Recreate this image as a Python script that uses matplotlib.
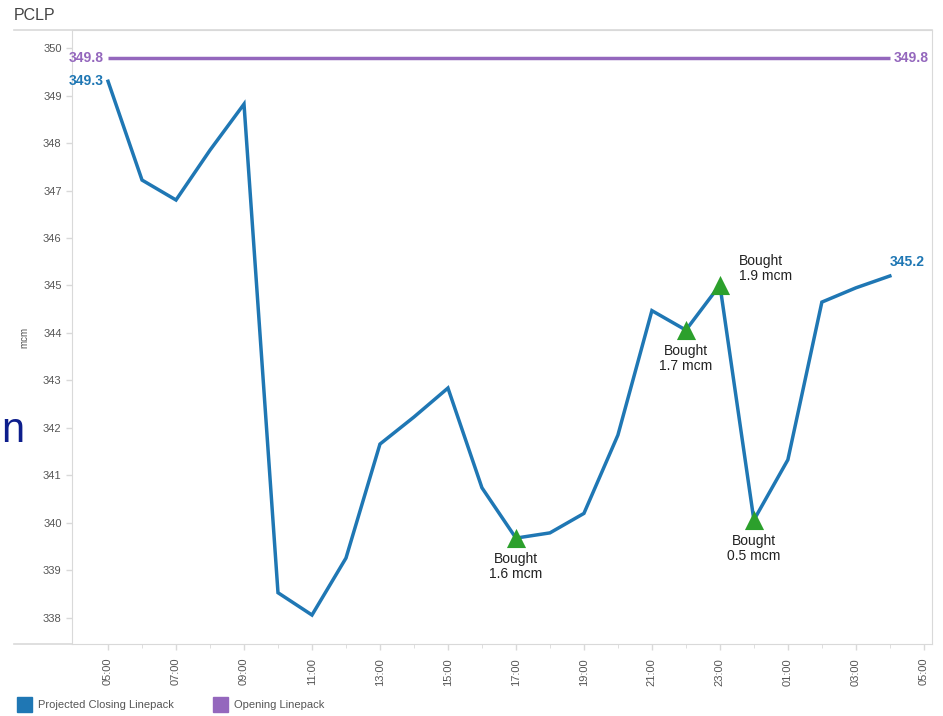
"""
PCLP chart: projected closing linepack vs opening linepack, with gas buys marked.
"""

import matplotlib
matplotlib.use('Agg')
import matplotlib.pyplot as plt
from matplotlib.lines import Line2D
from matplotlib.patches import Rectangle

plt.rcParams['font.family'] = ['Liberation Sans', 'DejaVu Sans']

# hourly points, gas day 05:00 -> 04:00
HOURS = ['05:00', '06:00', '07:00', '08:00', '09:00', '10:00', '11:00', '12:00',
         '13:00', '14:00', '15:00', '16:00', '17:00', '18:00', '19:00', '20:00',
         '21:00', '22:00', '23:00', '00:00', '01:00', '02:00', '03:00', '04:00']
CLOSING = [349.3, 347.22, 346.8, 347.85, 348.82, 338.53, 338.06, 339.26,
           341.66, 342.23, 342.84, 340.74, 339.68, 339.79, 340.2, 341.85,
           344.47, 344.06, 345.01, 340.06, 341.33, 344.65, 344.95, 345.2]
OPENING = [349.8] * len(HOURS)

TICK_LABELS = ['05:00', '07:00', '09:00', '11:00', '13:00', '15:00', '17:00',
               '19:00', '21:00', '23:00', '01:00', '03:00', '05:00']

# trades: (hour index, label, where to put text)
BUY_IDX = [12, 17, 18, 19]
BUY_TEXT = ['Bought\n1.6 mcm', 'Bought\n1.7 mcm', 'Bought\n1.9 mcm', 'Bought\n0.5 mcm']
BUY_SIDE = ['below', 'below', 'right', 'below']

SERIES = ['Projected Closing Linepack', 'Opening Linepack']
COLORS = ['#1f77b4', '#9467bd']
BUY_COLOR = '#2ca02c'
GRID_C = '#d9d9d9'
TXT_C = '#555555'

fig = plt.figure(figsize=(9.43, 7.16), dpi=100)
ax = fig.add_axes([72 / 943, 1 - 644 / 716, 860 / 943, 614 / 716])

x = list(range(len(HOURS)))
ax.plot(x, OPENING, c=COLORS[1], lw=2.5, solid_capstyle='butt', zorder=2)
ax.plot(x, CLOSING, c=COLORS[0], lw=2.5, solid_joinstyle='miter', zorder=3)

bx = [x[i] for i in BUY_IDX]
by = [CLOSING[i] for i in BUY_IDX]
ax.scatter(bx, by, marker='^', s=190, c=BUY_COLOR, zorder=4, linewidths=0)

for xi, yi, txt, side in zip(bx, by, BUY_TEXT, BUY_SIDE):
    if side == 'below':
        ax.annotate(txt, (xi, yi), xytext=(0, -10), textcoords='offset points',
                    ha='center', va='top', fontsize=10, color='#222222', linespacing=1.1)
    else:
        ax.annotate(txt, (xi, yi), xytext=(14, 12), textcoords='offset points',
                    ha='left', va='center', fontsize=10, color='#222222', linespacing=1.1)

# end value labels
ax.annotate(f'{OPENING[0]:.1f}', (x[0], OPENING[0]), xytext=(-3, 0), textcoords='offset points',
            ha='right', va='center', fontsize=10, fontweight='bold', color=COLORS[1])
ax.annotate(f'{OPENING[-1]:.1f}', (x[-1], OPENING[-1]), xytext=(3, 0), textcoords='offset points',
            ha='left', va='center', fontsize=10, fontweight='bold', color=COLORS[1])
ax.annotate(f'{CLOSING[0]:.1f}', (x[0], CLOSING[0]), xytext=(-3, 0), textcoords='offset points',
            ha='right', va='center', fontsize=10, fontweight='bold', color=COLORS[0])
ax.annotate(f'{CLOSING[-1]:.1f}', (x[-1], CLOSING[-1]), xytext=(0, 5), textcoords='offset points',
            ha='left', va='bottom', fontsize=10, fontweight='bold', color=COLORS[0])

ax.set_xlim(-1.06, 24.24)
ax.set_ylim(337.45, 350.38)
ax.set_xticks(range(0, 25, 2))
ax.set_xticklabels(TICK_LABELS, rotation=90)
ax.set_xticks(range(1, 24, 2), minor=True)
ax.set_yticks(range(338, 351))

ax.tick_params(axis='both', colors=GRID_C, labelcolor=TXT_C, labelsize=8, length=4, width=1)
ax.tick_params(axis='x', which='minor', colors=GRID_C, length=3)
ax.tick_params(axis='x', pad=6)
for s in ['left', 'right', 'top', 'bottom']:
    ax.spines[s].set_color(GRID_C)
ax.set_ylabel('mcm', fontsize=7, color=TXT_C, labelpad=10)

# header / footer rules extend to the left edge
fig.add_artist(Line2D([14 / 943, 932 / 943], [1 - 30 / 716] * 2, color=GRID_C, lw=1.2))
fig.add_artist(Line2D([14 / 943, 72 / 943], [1 - 644 / 716] * 2, color=GRID_C, lw=1.2))

fig.text(14 / 943, 1 - 20 / 716, 'PCLP', fontsize=11.5, color='#444444', va='baseline')
# letter from the slide behind the screenshot
fig.text(1 / 943, 1 - 442 / 716, 'n', fontsize=30, color='#0d1e8c', ha='left', va='baseline')

# legend at the bottom
leg_x = [17, 213]
for lx, name, col in zip(leg_x, SERIES, COLORS):
    fig.add_artist(Rectangle((lx / 943, 1 - 712 / 716), 15 / 943, 15 / 716,
                             transform=fig.transFigure, color=col))
    fig.text((lx + 21) / 943, 1 - 705 / 716, name, fontsize=8, color=TXT_C, va='center')

fig.savefig('out.png', dpi=100)
